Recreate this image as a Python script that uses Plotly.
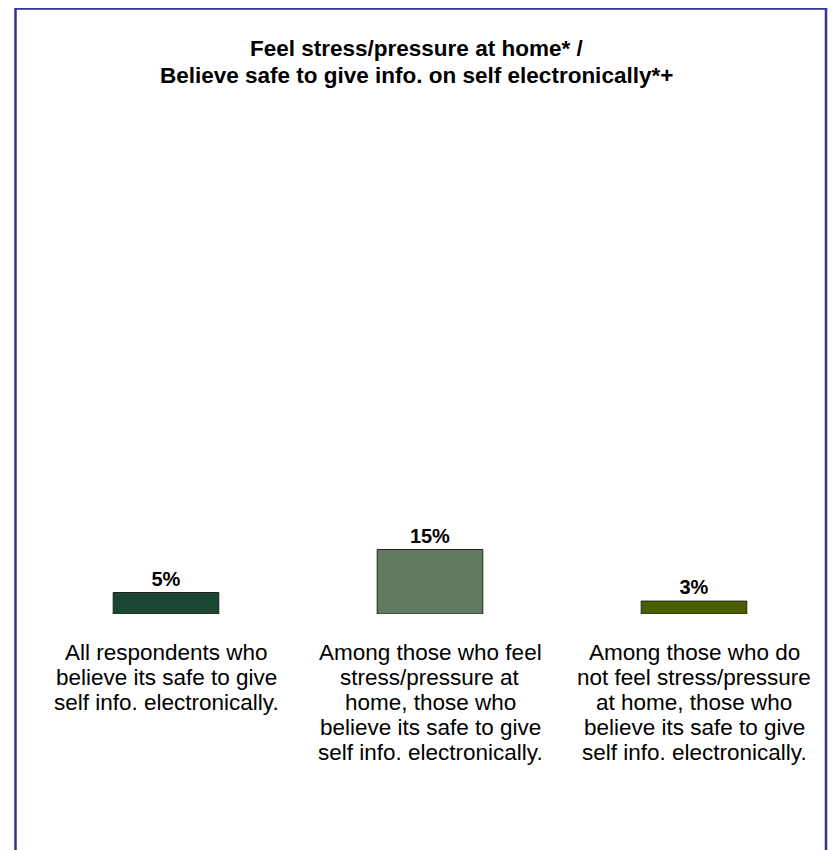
import plotly.graph_objects as go

categories = [
    "All respondents who<br>believe its safe to give<br>self info. electronically.",
    "Among those who feel<br>stress/pressure at<br>home, those who<br>believe its safe to give<br>self info. electronically.",
    "Among those who do<br>not feel stress/pressure<br>at home, those who<br>believe its safe to give<br>self info. electronically.",
]
values = [5, 15, 3]
labels = ["5%", "15%", "3%"]
colors = ["#1a4731", "#5f7a5f", "#4a5e00"]
title_lines = [
    "Feel stress/pressure at home* /",
    "Believe safe to give info. on self electronically*+",
]

FONT = "Liberation Sans, Arial, sans-serif"

# figure sits 8px into the page (body margin), so work in page pixels - 8
W, H = 831, 842
L, R = 26, 13
T, B = 176, 236
pw = W - L - R
ph = H - T - B
BASE = 614  # page y of bar baseline


def px_x(x):
    return (x - 8 - L) / pw


def px_y(y):
    return (H - B - (y - 8)) / ph


fig = go.Figure()

fig.add_trace(go.Bar(
    x=[0, 1, 2],
    y=values,
    text=labels,
    textposition="outside",
    textfont=dict(family=FONT, size=20, color="black", weight="bold"),
    marker=dict(color=colors, line=dict(color="#222222", width=1)),
    width=0.4,
    cliponaxis=False,
    hoverinfo="skip",
))

# category labels, one annotation per line so the line spacing is tight
for i, c in enumerate(categories):
    for k, line in enumerate(c.split("<br>")):
        fig.add_annotation(
            x=i, y=0, xref="x", yref="y",
            text=line, showarrow=False,
            yanchor="middle", yshift=-(652 + 25 * k - BASE),
            font=dict(family=FONT, size=22.5, color="black"),
        )

for line, yy in zip(title_lines, [48, 75]):
    fig.add_annotation(
        x=px_x(416), y=px_y(yy), xref="paper", yref="paper",
        text="<b>" + line + "</b>",
        showarrow=False, xanchor="center", yanchor="middle",
        font=dict(family=FONT, size=22.5, color="black"),
    )

# outer frame
fig.add_shape(
    type="rect", xref="paper", yref="paper",
    x0=px_x(15.5), x1=px_x(826), y0=px_y(880), y1=px_y(8.5),
    line=dict(color="#333399", width=2.5), fillcolor="rgba(0,0,0,0)",
    layer="above",
)

fig.update_layout(
    width=W, height=H,
    margin=dict(l=L, r=R, t=T, b=B),
    plot_bgcolor="white",
    paper_bgcolor="white",
    showlegend=False,
    xaxis=dict(range=[-0.5, 2.5], showticklabels=False, showgrid=False,
               zeroline=False, showline=False, ticks=""),
    yaxis=dict(range=[0, 100], visible=False, showgrid=False, zeroline=False),
)

fig.write_html("out.html")
